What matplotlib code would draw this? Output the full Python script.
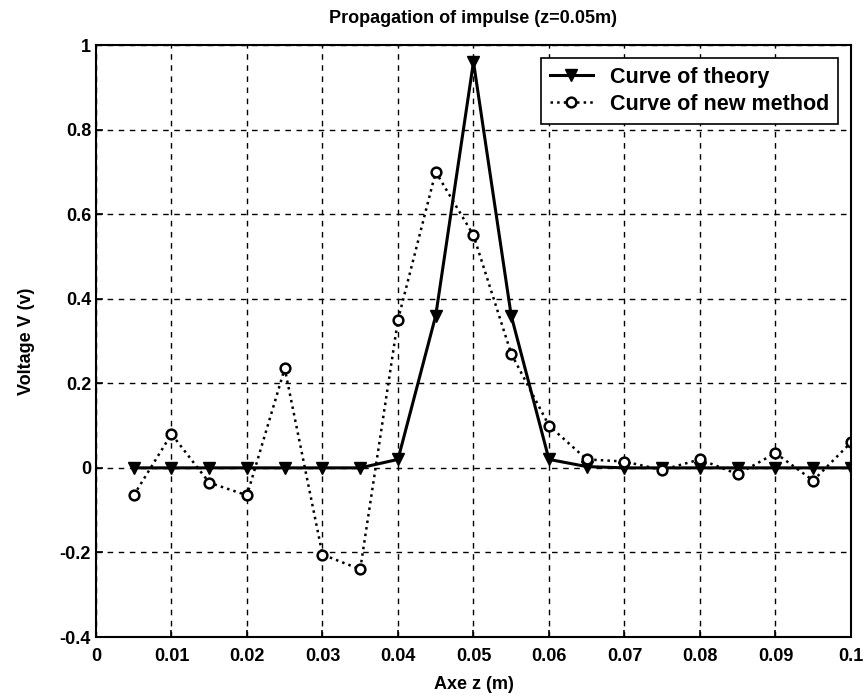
import numpy as np
import matplotlib.pyplot as plt

plt.rcParams['font.family'] = ['Liberation Sans', 'DejaVu Sans']
plt.rcParams['font.weight'] = 'bold'

# data
z = [0.005, 0.01, 0.015, 0.02, 0.025, 0.03, 0.035, 0.04, 0.045, 0.05,
     0.055, 0.06, 0.065, 0.07, 0.075, 0.08, 0.085, 0.09, 0.095, 0.1]
v_theory = [0, 0, 0, 0, 0, 0, 0, 0.02, 0.36, 0.96,
            0.36, 0.02, 0.003, 0, 0, 0, 0, 0, 0, 0]
v_new = [-0.065, 0.08, -0.035, -0.065, 0.235, -0.205, -0.24, 0.35, 0.70, 0.55,
         0.27, 0.10, 0.02, 0.015, -0.005, 0.02, -0.015, 0.035, -0.03, 0.06]
xticks = [0, 0.01, 0.02, 0.03, 0.04, 0.05, 0.06, 0.07, 0.08, 0.09, 0.1]
xtick_labels = ['0', '0.01', '0.02', '0.03', '0.04', '0.05', '0.06', '0.07', '0.08', '0.09', '0.1']
yticks = [-0.4, -0.2, 0, 0.2, 0.4, 0.6, 0.8, 1]
ytick_labels = ['-0.4', '-0.2', '0', '0.2', '0.4', '0.6', '0.8', '1']

fig = plt.figure(figsize=(8.67, 7), dpi=100)
ax = fig.add_axes([0.1107, 0.09, 0.8708, 0.8457])

ax.plot(z, v_theory, '-', color='black', lw=2.2, marker='v', ms=8,
        mfc='black', mec='black', label='Curve of theory')
ax.plot(z, v_new, ':', color='black', lw=1.8, marker='o', ms=7,
        mfc='white', mec='black', mew=1.8, label='Curve of new method')

ax.set_xlim(0, 0.1)
ax.set_ylim(-0.4, 1)
ax.set_xticks(xticks)
ax.set_xticklabels(xtick_labels)
ax.set_yticks(yticks)
ax.set_yticklabels(ytick_labels)
ax.tick_params(labelsize=13, direction='in', length=5, width=1.2)
ax.tick_params(axis='x', pad=8)
ax.grid(True, color='black', linestyle=(0, (4, 4)), lw=1)
for s in ax.spines.values():
    s.set_linewidth(1.5)

ax.set_title('Propagation of impulse (z=0.05m)', fontsize=13, fontweight='bold', pad=16)
ax.set_xlabel('Axe z (m)', fontsize=13, fontweight='bold', labelpad=8)
ax.set_ylabel('Voltage V (v)', fontsize=13, fontweight='bold', labelpad=18)

leg = ax.legend(loc='upper right', fontsize=15.5, fancybox=False, framealpha=1,
                edgecolor='black', borderaxespad=0.6, handlelength=2.0,
                labelspacing=0.3, borderpad=0.4)
leg.get_frame().set_linewidth(1.2)

fig.savefig('out.png', dpi=100)
